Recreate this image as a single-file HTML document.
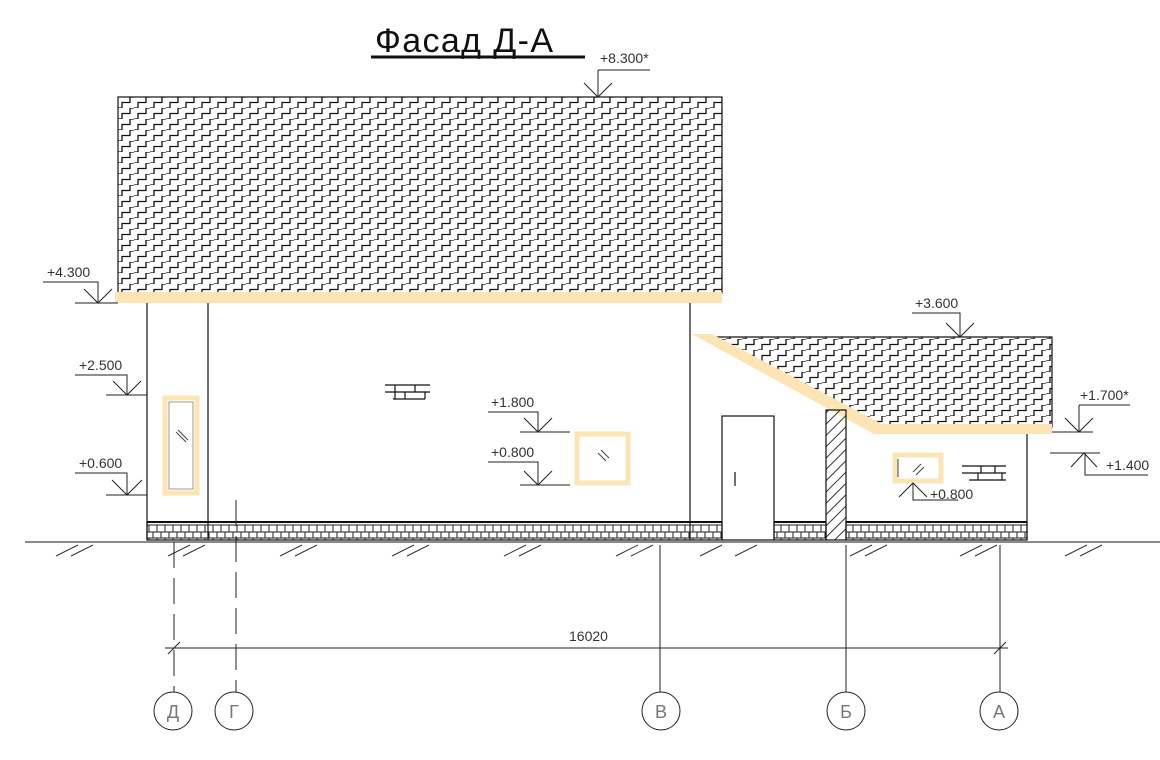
<!DOCTYPE html>
<html><head><meta charset="utf-8"><style>
html,body{margin:0;padding:0;background:#fff;width:1160px;height:760px;overflow:hidden}
svg{display:block}
text{font-family:"Liberation Sans",sans-serif;fill:#333}
</style></head><body>
<svg width="1160" height="760" viewBox="0 0 1160 760" xmlns="http://www.w3.org/2000/svg">
<defs>
<pattern id="roof" x="118" y="97" width="16" height="11" patternUnits="userSpaceOnUse">
<path d="M0 11 H4 V5.5 H12 V0 H16" fill="none" stroke="#111" stroke-width="1.3"/>
</pattern>
<pattern id="plinth" x="147" y="522" width="8" height="18" patternUnits="userSpaceOnUse">
<path d="M0 3 H8 M0 10 H8 M0 16 H8 M2 3 V10 M6 10 V16 M2 16 V18" fill="none" stroke="#222" stroke-width="1"/>
</pattern>
<pattern id="diag" width="8" height="8" patternUnits="userSpaceOnUse" patternTransform="rotate(-45)">
<path d="M0 4 H8" stroke="#333" stroke-width="1"/>
</pattern>
</defs>
<g stroke="#111" fill="none" stroke-width="1.2">
<text x="375" y="52" font-size="34" style="fill:#111" stroke="none" letter-spacing="2" textLength="180">Фасад Д-А</text>
<line x1="371" y1="57" x2="585" y2="57" stroke-width="3"/>
<rect x="118" y="97" width="604" height="196" fill="url(#roof)"/>
<rect x="115" y="292" width="607" height="11" fill="#fde4b4" stroke="none"/>
<line x1="147" y1="303" x2="147" y2="540"/>
<line x1="208" y1="303" x2="208" y2="540"/>
<line x1="690" y1="303" x2="690" y2="540"/>
<polygon points="712,337 1052,337 1052,427 876,427" fill="url(#roof)"/>
<polygon points="692,334 712,334 882,424 1052,424 1052,434 874,434" fill="#fde4b4" stroke="none"/>
<line x1="1027" y1="434" x2="1027" y2="540"/>
<rect x="826" y="410" width="20" height="130" fill="url(#diag)"/>
<rect x="722" y="416" width="52" height="124" fill="#fff"/>
<line x1="735" y1="472" x2="735" y2="486"/>
<rect x="147" y="522" width="575" height="18" fill="url(#plinth)"/>
<rect x="774" y="522" width="52" height="18" fill="url(#plinth)"/>
<rect x="846" y="522" width="181" height="18" fill="url(#plinth)"/>
<line x1="147" y1="522" x2="722" y2="522" stroke-width="2"/>
<line x1="774" y1="522" x2="826" y2="522" stroke-width="2"/>
<line x1="846" y1="522" x2="1027" y2="522" stroke-width="2"/>
<line x1="25" y1="542" x2="1160" y2="542" stroke="#444"/>
<rect x="165" y="398" width="32" height="95" stroke="#fde4b4" stroke-width="5" fill="#fff"/>
<rect x="169" y="402" width="24" height="87" stroke="#999" stroke-width="1"/>
<path d="M176 432 L186 442 M178 430 L188 440" stroke="#444" stroke-width="1"/>
<rect x="577" y="434" width="51" height="49" stroke="#fde4b4" stroke-width="5" fill="#fff"/>
<path d="M598 453 L606 461 M601 450 L609 458" stroke="#444" stroke-width="1"/>
<rect x="895" y="455" width="46" height="26" stroke="#fde4b4" stroke-width="5" fill="#fff"/>
<line x1="898" y1="459" x2="898" y2="477" stroke="#444" stroke-width="1"/>
<path d="M913 472 L921 464 M916 475 L924 467" stroke="#444" stroke-width="1"/>
<path d="M385 385 H430 M385 392 H430 M393 399 H425 M395 385 V392 M415 385 V392 M405 392 V399 M425 392 V399 M395 392 V399" stroke-width="1.2"/>
<path d="M962 466 H1006 M962 473 H1006 M969 480 H1006 M981 466 V473 M995 466 V473 M978 473 V480 M1002 473 V480" stroke-width="1.2"/>
<g stroke="#222" stroke-width="1">
<path d="M598 70 H650 M598 70 V97 M584 83 L598 97 L612 83"/>
<path d="M43 282 H98 V303 M84 289 L98 303 L112 289 M75 303 H118"/>
<path d="M75 375 H127 V395 M113 381 L127 395 L141 381 M106 395 H147"/>
<path d="M75 473 H127 V495 M112 480 L127 495 L142 480 M106 495 H147"/>
<path d="M488 412 H538 V432 M524 418 L538 432 L552 418 M520 432 H570"/>
<path d="M488 462 H538 V485 M524 471 L538 485 L552 471 M520 485 H570"/>
<path d="M912 313 H960 V337 M946 323 L960 337 L974 323"/>
<path d="M1079 405 H1130 M1079 405 V432 M1065 418 L1079 432 L1093 418 M1052 432 H1093"/>
<path d="M1050 453 H1100 M1071 467 L1084 453 L1097 467 M1085 453 V475 H1148"/>
<path d="M899 497 L913 483 L927 497 M913 483 V500 H958"/>
</g>
<g stroke="none" font-size="14">
<text x="600" y="63">+8.300*</text>
<text x="47" y="277">+4.300</text>
<text x="79" y="370">+2.500</text>
<text x="79" y="468">+0.600</text>
<text x="491" y="407">+1.800</text>
<text x="491" y="457">+0.800</text>
<text x="915" y="308">+3.600</text>
<text x="1080" y="400">+1.700*</text>
<text x="1106" y="470">+1.400</text>
<text x="930" y="499">+0.800</text>
<text x="569" y="641">16020</text>
</g>
<g stroke="#333" stroke-width="1">
<path d="M56 556 L78 545 M71 556 L93 545"/>
<path d="M168 556 L190 545 M183 556 L205 545"/>
<path d="M280 556 L302 545 M295 556 L317 545"/>
<path d="M392 556 L414 545 M407 556 L429 545"/>
<path d="M504 556 L526 545 M519 556 L541 545"/>
<path d="M616 556 L638 545 M631 556 L653 545"/>
<path d="M700 556 L722 545"/>
<path d="M735 556 L757 545"/>
<path d="M850 556 L872 545 M865 556 L887 545"/>
<path d="M960 556 L982 545 M975 556 L997 545"/>
<path d="M1065 556 L1087 545 M1080 556 L1102 545"/>
</g>
<g stroke="#222" stroke-width="1">
<line x1="174" y1="542" x2="174" y2="692" stroke-dasharray="26 10"/>
<line x1="236" y1="500" x2="236" y2="692" stroke-dasharray="26 10"/>
<line x1="660" y1="545" x2="660" y2="692"/>
<line x1="846" y1="545" x2="846" y2="692"/>
<line x1="1000" y1="545" x2="1000" y2="692"/>
<line x1="165" y1="648" x2="1008" y2="648"/>
<path d="M168 654 L180 642 M994 654 L1006 642"/>
<circle cx="173" cy="711" r="19"/>
<circle cx="234" cy="711" r="19"/>
<circle cx="661" cy="711" r="19"/>
<circle cx="846" cy="711" r="19"/>
<circle cx="999" cy="711" r="19"/>
</g>
<g stroke="none" font-size="18" text-anchor="middle">
<text x="173" y="718" style="fill:#777">Д</text>
<text x="234" y="718" style="fill:#777">Г</text>
<text x="661" y="718" style="fill:#777">В</text>
<text x="846" y="718" style="fill:#777">Б</text>
<text x="999" y="718" style="fill:#777">А</text>
</g>
</g>
</svg>
</body></html>
